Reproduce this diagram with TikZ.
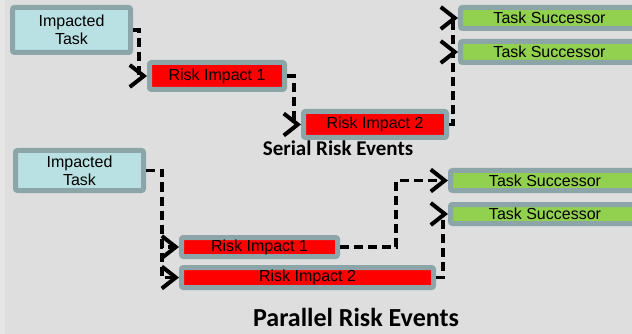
\documentclass[tikz,border=0pt]{standalone}
\usepackage{fontspec}
\setmainfont{Liberation Sans}
\newfontfamily\titlefont{Carlito}
\usetikzlibrary{arrows.meta}
\definecolor{bgc}{HTML}{DEDEDE}
\definecolor{bgl}{HTML}{E6E6E6}
\definecolor{bordc}{HTML}{8CA5A8}
\definecolor{cyanc}{HTML}{B9E1E4}
\definecolor{redc}{HTML}{FF0000}
\definecolor{greenc}{HTML}{92D050}
\tikzset{
  box/.style={draw=bordc, line width=5pt, rounded corners=2pt, inner sep=0pt,
    font=\fontsize{16}{18}\selectfont, align=center},
  conn/.style={black, line width=3.4pt, dash pattern=on 9pt off 5pt,
    -{Straight Barb[length=14pt, width=22pt, line width=4pt]}},
  titletext/.style={anchor=base, inner sep=0pt}
}
\begin{document}
\begin{tikzpicture}[x=1pt, y=-1pt]
\useasboundingbox (0,0) rectangle (632,334);
\begin{scope}
\clip (0,0) rectangle (632,334);
\fill[bgc] (0,0) rectangle (632,334);
\fill[bgl] (0,0) rectangle (5,334);
% serial
\node[box, fill=cyanc, minimum width=118pt, minimum height=45pt] (it1) at (71.5,30) {Impacted\\Task};
\node[box, fill=redc, minimum width=135pt, minimum height=27pt] (ri1) at (217,76) {Risk Impact 1};
\node[box, fill=redc, minimum width=143pt, minimum height=26pt] (ri2) at (375,124.5) {Risk Impact 2};
\node[box, fill=greenc, minimum width=178pt, minimum height=21pt] (ts1) at (549.5,18) {Task Successor};
\node[box, fill=greenc, minimum width=178pt, minimum height=21pt] (ts2) at (549.5,52) {Task Successor};
\node[titletext, font=\titlefont\bfseries\fontsize{21}{24}\selectfont] (serial) at (338,156) {Serial Risk Events};
% parallel
\node[box, fill=cyanc, minimum width=128pt, minimum height=40pt] (it2) at (79.5,170.5) {Impacted\\Task};
\node[box, fill=redc, minimum width=156pt, minimum height=19pt] (rp1) at (259.5,247) {Risk Impact 1};
\node[box, fill=redc, minimum width=252pt, minimum height=20pt] (rp2) at (307.5,277.5) {Risk Impact 2};
\node[box, fill=greenc, minimum width=189pt, minimum height=20pt] (tp1) at (545,180.5) {Task Successor};
\node[box, fill=greenc, minimum width=189pt, minimum height=19pt] (tp2) at (545,214) {Task Successor};
\node[titletext, font=\titlefont\bfseries\fontsize{26}{30}\selectfont] (parallel) at (356,326.5) {Parallel Risk Events};
% connectors
\draw[conn] (it1.east) -- ++(6,0) |- (ri1.west);
\draw[conn] (ri1.east) -- ++(7,0) |- (ri2.west);
\draw[conn] (ri2.east) -- ++(4,0) |- (ts1.west);
\draw[conn] (ri2.east) -- ++(4,0) |- (ts2.west);
\draw[conn] (it2.east) -- ++(16,0) |- (rp1.west);
\draw[conn] (it2.east) -- ++(16,0) |- (rp2.west);
\draw[conn] (rp1.east) -- ++(56,0) |- (tp1.west);
\draw[conn] (rp2.east) -- ++(7,0) |- (tp2.west);
\end{scope}
\end{tikzpicture}
\end{document}
